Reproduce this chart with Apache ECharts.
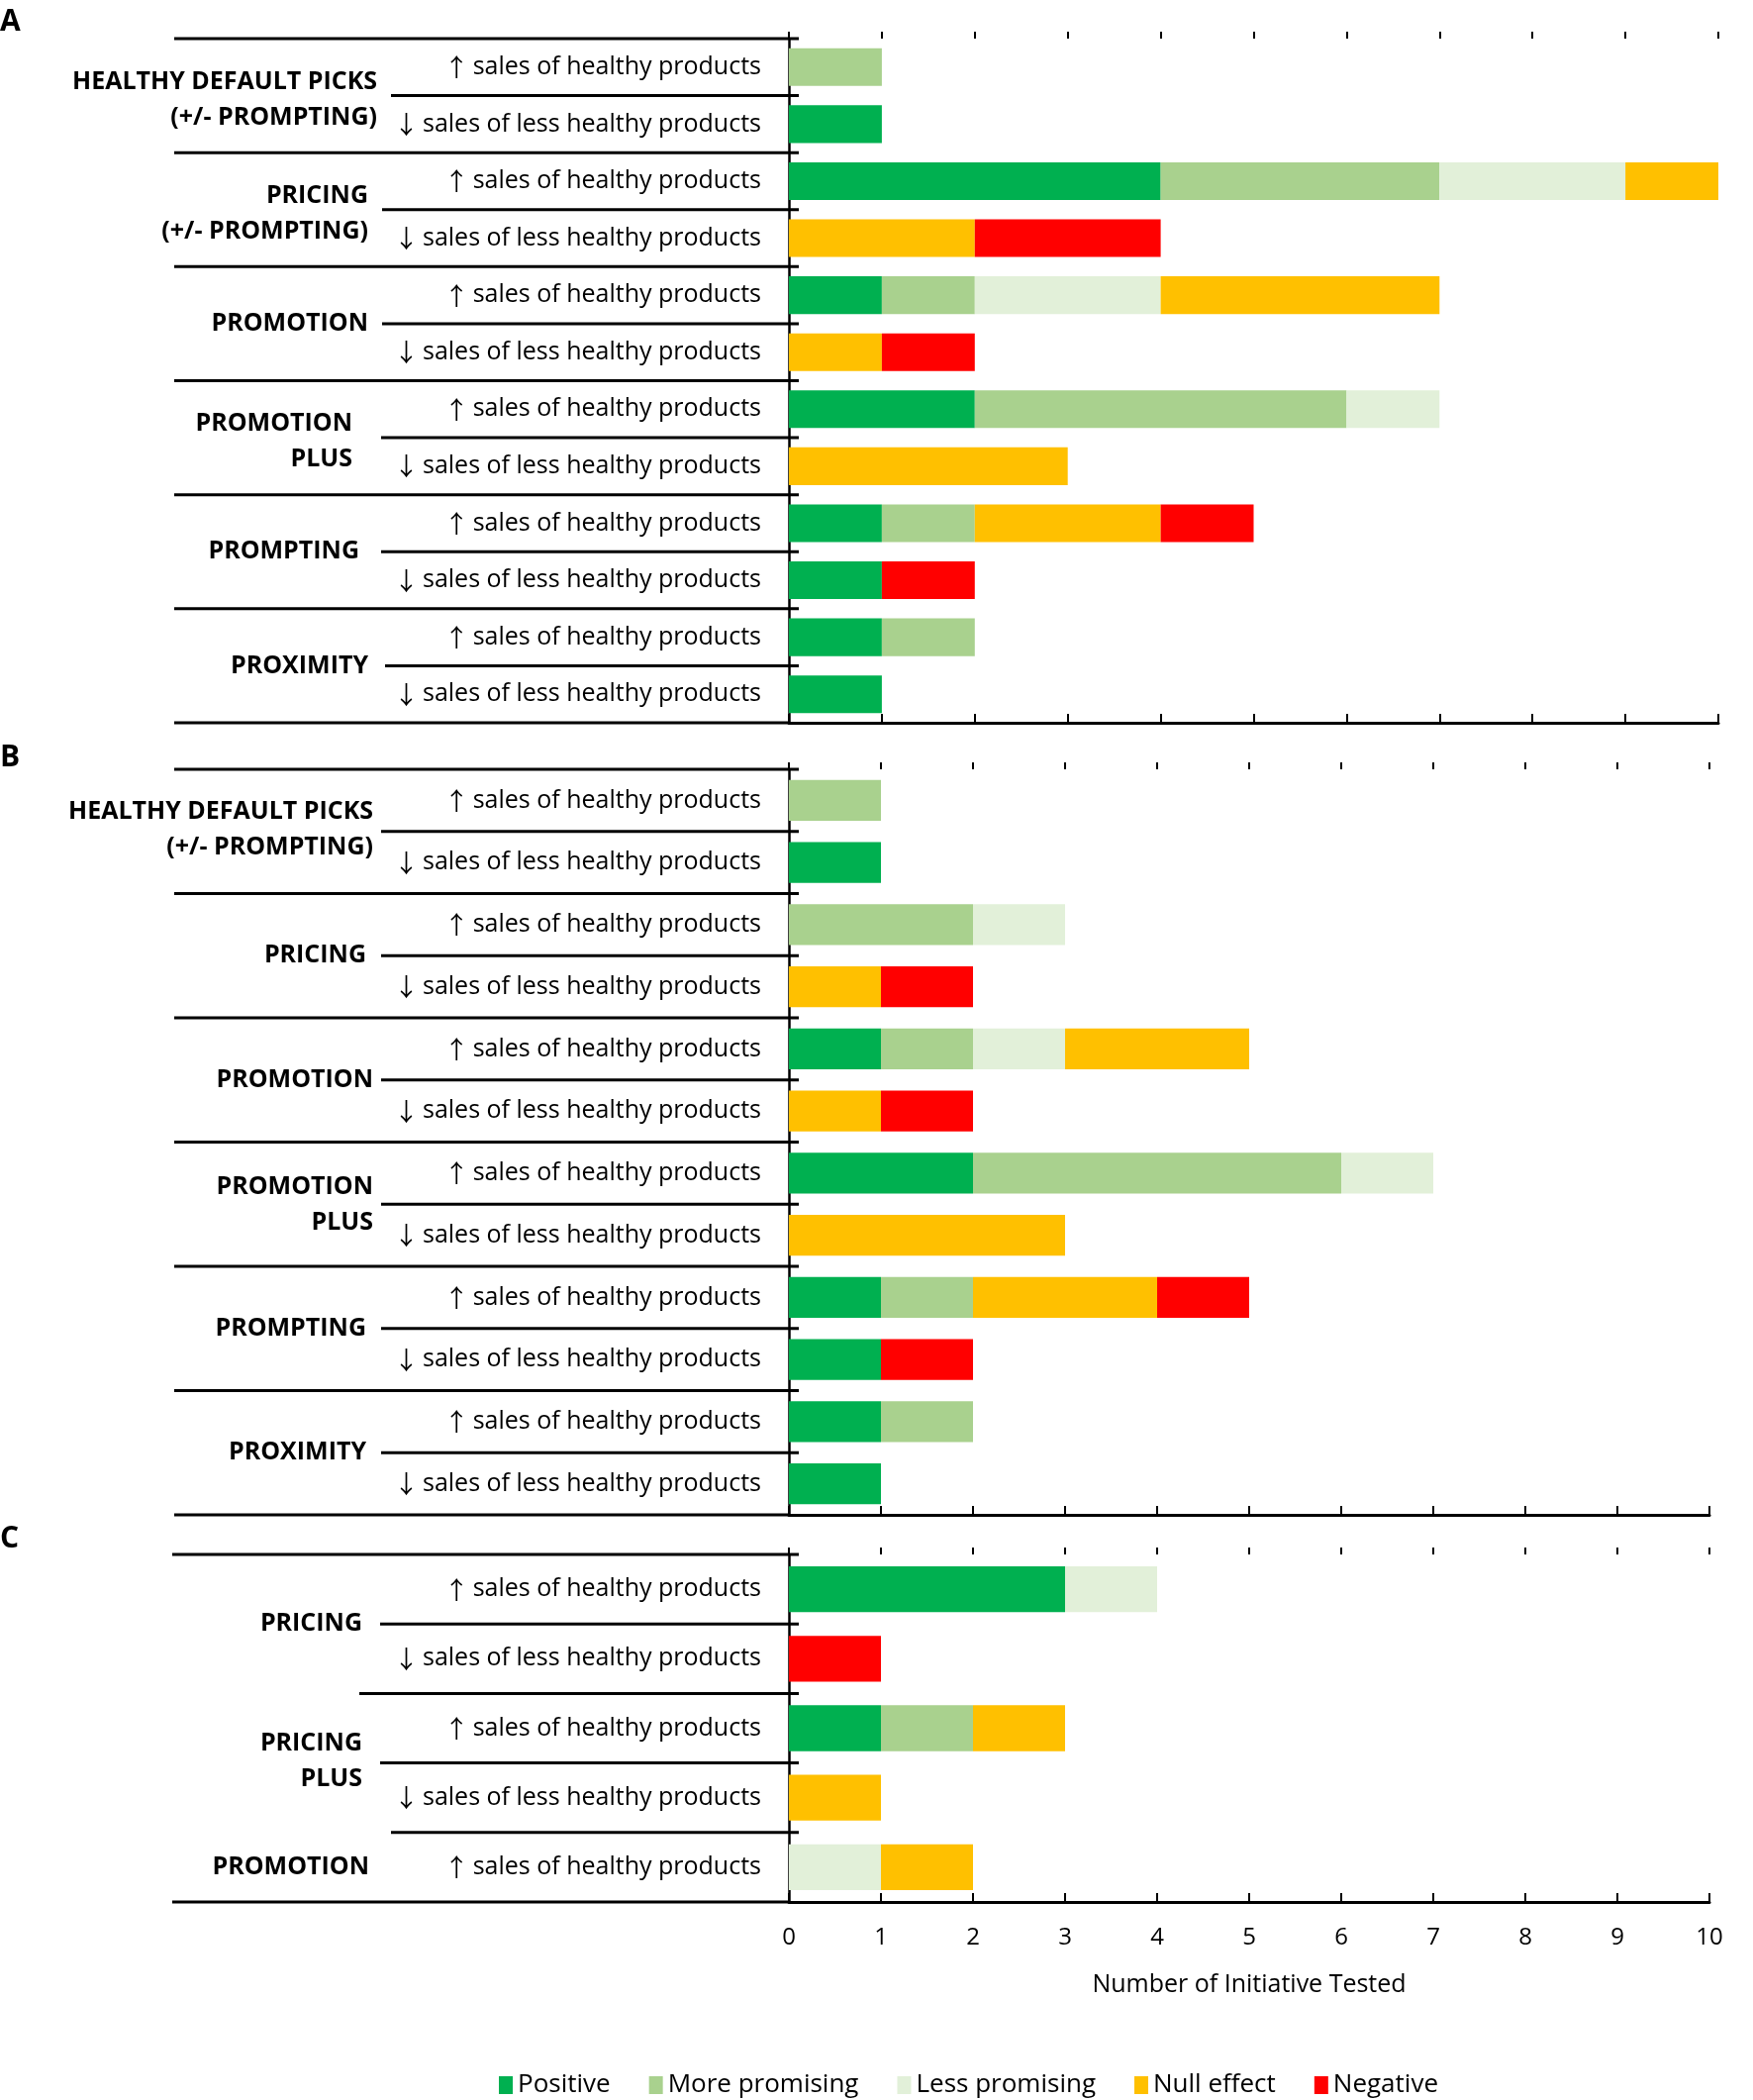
<!DOCTYPE html>
<html>
<head>
<meta charset="utf-8">
<script src="https://cdn.jsdelivr.net/npm/echarts@6/dist/echarts.min.js"></script>
<style>
  html, body { margin: 0; padding: 0; background: #ffffff; }
  #chart { width: 1771px; height: 2121px; }
</style>
</head>
<body>
<div id="chart"></div>
<script>
// ---------------- DATA ----------------
const seriesNames = ['Positive', 'More promising', 'Less promising', 'Null effect', 'Negative'];
const UP = '\u2191 sales of healthy products';
const DOWN = '\u2193 sales of less healthy products';

// Panel A
const rowsA = [UP, DOWN, UP, DOWN, UP, DOWN, UP, DOWN, UP, DOWN, UP, DOWN];
const groupsA = ['HEALTHY DEFAULT PICKS\n(+/- PROMPTING)', 'PRICING\n(+/- PROMPTING)', 'PROMOTION', 'PROMOTION\nPLUS', 'PROMPTING', 'PROXIMITY'];
const groupSizesA = [2, 2, 2, 2, 2, 2];
const positiveA = [0, 1, 4, 0, 1, 0, 2, 0, 1, 1, 1, 1];
const morePromisingA = [1, 0, 3, 0, 1, 0, 4, 0, 1, 0, 1, 0];
const lessPromisingA = [0, 0, 2, 0, 2, 0, 1, 0, 0, 0, 0, 0];
const nullEffectA = [0, 0, 1, 2, 3, 1, 0, 3, 2, 0, 0, 0];
const negativeA = [0, 0, 0, 2, 0, 1, 0, 0, 1, 1, 0, 0];

// Panel B
const rowsB = [UP, DOWN, UP, DOWN, UP, DOWN, UP, DOWN, UP, DOWN, UP, DOWN];
const groupsB = ['HEALTHY DEFAULT PICKS\n(+/- PROMPTING)', 'PRICING', 'PROMOTION', 'PROMOTION\nPLUS', 'PROMPTING', 'PROXIMITY'];
const groupSizesB = [2, 2, 2, 2, 2, 2];
const positiveB = [0, 1, 0, 0, 1, 0, 2, 0, 1, 1, 1, 1];
const morePromisingB = [1, 0, 2, 0, 1, 0, 4, 0, 1, 0, 1, 0];
const lessPromisingB = [0, 0, 1, 0, 1, 0, 1, 0, 0, 0, 0, 0];
const nullEffectB = [0, 0, 0, 1, 2, 1, 0, 3, 2, 0, 0, 0];
const negativeB = [0, 0, 0, 1, 0, 1, 0, 0, 1, 1, 0, 0];

// Panel C
const rowsC = [UP, DOWN, UP, DOWN, UP];
const groupsC = ['PRICING', 'PRICING\nPLUS', 'PROMOTION'];
const groupSizesC = [2, 2, 1];
const positiveC = [3, 0, 1, 0, 0];
const morePromisingC = [0, 0, 1, 0, 0];
const lessPromisingC = [1, 0, 0, 0, 1];
const nullEffectC = [0, 0, 1, 1, 1];
const negativeC = [0, 1, 0, 0, 0];

const panelLetters = ['A', 'B', 'C'];
const xMin = 0, xMax = 10, xStep = 1;
const xAxisName = 'Number of Initiative Tested';

// ---------------- STYLE / LAYOUT ----------------
const colors = ['#00B050', '#A9D18E', '#E2F0D9', '#FFC000', '#FF0000'];
const FONT = '"Open Sans", "Noto Sans", sans-serif';
const ARROW_FONT = '"Noto Sans CJK SC", "DejaVu Sans", sans-serif';
const panels = [
  { rows: rowsA, groups: groupsA, sizes: groupSizesA,
    values: [positiveA, morePromisingA, lessPromisingA, nullEffectA, negativeA],
    grid: { left: 797, top: 39, width: 939, height: 691 }, letterY: 22,
    groupLineStart: [176, 176, 176, 176, 176, 176, 176],
    midLineStart: [395, 386, 386, 385, 385, 389],
    labelRight: [381, 372, 372, 356, 363, 372], labelShift: [4, 4, 0, 4, 0, 0],
    showLabels: false },
  { rows: rowsB, groups: groupsB, sizes: groupSizesB,
    values: [positiveB, morePromisingB, lessPromisingB, nullEffectB, negativeB],
    grid: { left: 797, top: 777, width: 930, height: 753 }, letterY: 765,
    groupLineStart: [176, 176, 176, 176, 176, 176, 176],
    midLineStart: [385, 385, 385, 385, 385, 385],
    labelRight: [377, 370, 377, 377, 370, 370], labelShift: [-2, 0, 0, 1, 0, 0],
    showLabels: false },
  { rows: rowsC, groups: groupsC, sizes: groupSizesC,
    values: [positiveC, morePromisingC, lessPromisingC, nullEffectC, negativeC],
    grid: { left: 797, top: 1570, width: 930, height: 351 }, letterY: 1554,
    groupLineStart: [174, 363, 395, 174],
    midLineStart: [384, 384, null],
    labelRight: [366, 366, 373], labelShift: [0, -2, 0],
    showLabels: true }
];

const chart = echarts.init(document.getElementById('chart'), null, { renderer: 'canvas' });

function rowLabel(value) {
  const arrow = value.charAt(0);
  const rest = value.slice(2);
  return '{a|' + arrow + '}{t|' + rest + '}';
}

const grids = [], xAxes = [], yAxes = [], series = [];
panels.forEach((p, g) => {
  grids.push(Object.assign({ containLabel: false }, p.grid));
  // main x axis: line + inner half of crossing ticks (+ labels on last panel)
  xAxes.push({
    type: 'value', gridIndex: g, min: xMin, max: xMax, interval: xStep,
    axisLine: { show: true, lineStyle: { color: '#000', width: 3 } },
    axisTick: { show: true, inside: true, length: 9, lineStyle: { color: '#000', width: 2 } },
    axisLabel: { show: p.showLabels, fontSize: 24, color: '#000', fontFamily: FONT, margin: 24 },
    splitLine: { show: false },
    name: p.showLabels ? xAxisName : '',
    nameLocation: 'middle', nameGap: 71,
    nameTextStyle: { fontSize: 25, color: '#000', fontFamily: FONT }
  });
  // helper x axis: outer half of crossing ticks
  xAxes.push({
    type: 'value', gridIndex: g, min: xMin, max: xMax, interval: xStep,
    axisLine: { show: false },
    axisTick: { show: true, inside: false, length: 7, lineStyle: { color: '#000', width: 2 } },
    axisLabel: { show: false },
    splitLine: { show: false }
  });
  yAxes.push({
    type: 'category', gridIndex: g, inverse: true, data: p.rows,
    axisLine: { show: true, lineStyle: { color: '#000', width: 2.5 } },
    axisTick: { show: false },
    axisLabel: {
      margin: 28, formatter: rowLabel,
      rich: {
        a: { fontSize: 25, color: '#000', fontFamily: ARROW_FONT, fontWeight: 'normal', padding: [0, 4, 0, 0] },
        t: { fontSize: 25, color: '#000', fontFamily: FONT }
      }
    }
  });
  seriesNames.forEach((name, s) => {
    series.push({
      type: 'bar', name: name, xAxisIndex: g * 2, yAxisIndex: g,
      stack: 'panel' + g, barWidth: '66%',
      itemStyle: { color: colors[s] },
      data: p.values[s]
    });
  });
});

chart.setOption({
  animation: false,
  backgroundColor: '#ffffff',
  textStyle: { fontFamily: FONT },
  grid: grids,
  xAxis: xAxes,
  yAxis: yAxes,
  legend: {
    data: seriesNames, left: 499, top: 2088,
    icon: 'rect', itemWidth: 14, itemHeight: 18, itemGap: 39,
    textStyle: { fontSize: 26, color: '#000', fontFamily: FONT }
  },
  series: series
});

// separators and group labels, positioned from the axes' own scales
const els = [];
panels.forEach((p, g) => {
  const c0 = chart.convertToPixel({ yAxisIndex: g }, 0);
  const c1 = chart.convertToPixel({ yAxisIndex: g }, 1);
  const band = c1 - c0;
  const edge = k => c0 + (k - 0.5) * band;
  const x0 = chart.convertToPixel({ xAxisIndex: g * 2 }, 0);
  const xEnd = x0 + 10;
  const line = (xs, y) => ({
    type: 'line', silent: true, z: 10,
    shape: { x1: xs, y1: y, x2: xEnd, y2: y },
    style: { stroke: '#000', lineWidth: 3 }
  });
  let start = 0;
  p.sizes.forEach((size, i) => {
    els.push(line(p.groupLineStart[i], edge(start)));
    if (size > 1 && p.midLineStart[i] != null) {
      for (let k = 1; k < size; k++) els.push(line(p.midLineStart[i], edge(start + k)));
    }
    const cy = c0 + (start + (size - 1) / 2) * band + p.labelShift[i];
    els.push({
      type: 'text', silent: true, z: 10,
      x: p.labelRight[i], y: cy,
      style: {
        text: p.groups[i], fill: '#000',
        fontSize: 25, fontWeight: 'bold', fontFamily: FONT,
        align: 'right', verticalAlign: 'middle', lineHeight: 36
      }
    });
    start += size;
  });
  // bottom boundary (continues into the x axis line)
  els.push({
    type: 'line', silent: true, z: 10,
    shape: { x1: p.groupLineStart[p.sizes.length], y1: edge(start), x2: x0, y2: edge(start) },
    style: { stroke: '#000', lineWidth: 3 }
  });
  els.push({
    type: 'text', silent: true, z: 10, x: 0, y: p.letterY,
    style: { text: panelLetters[g], fill: '#000', fontSize: 30, fontWeight: 'bold', fontFamily: FONT, align: 'left', verticalAlign: 'middle' }
  });
});
chart.setOption({ graphic: els });
</script>
</body>
</html>
